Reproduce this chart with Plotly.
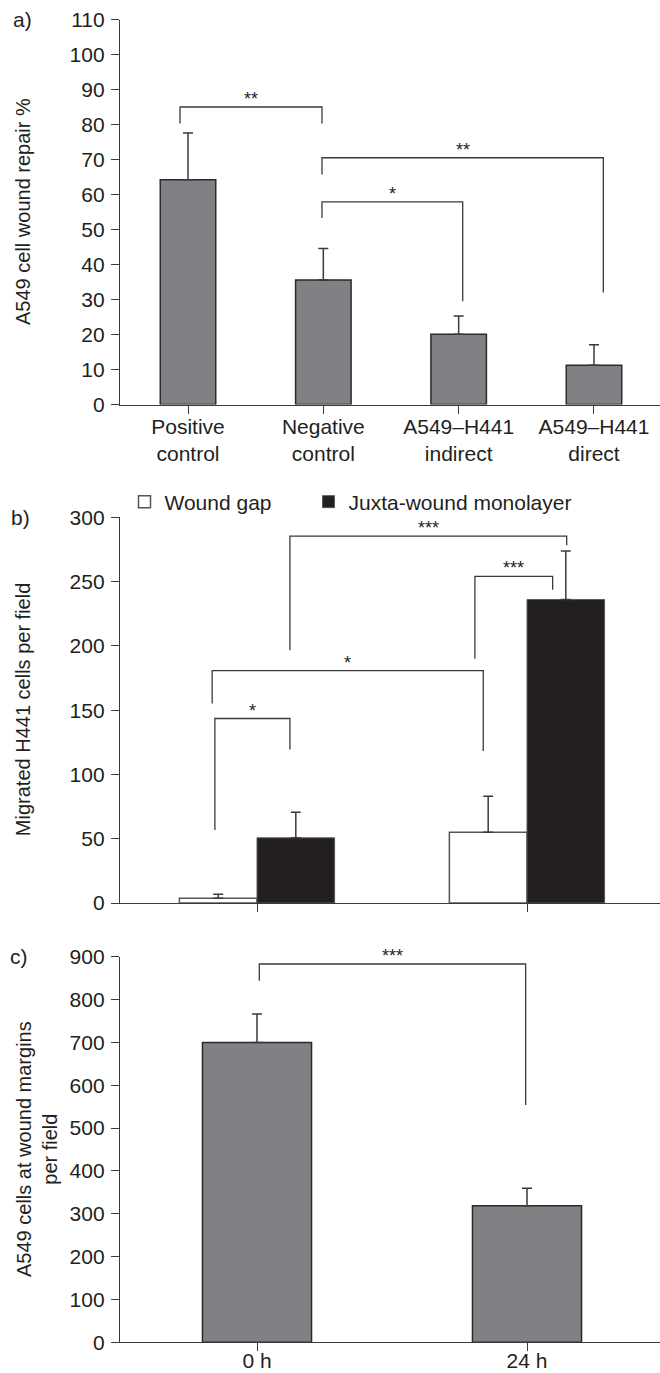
import plotly.graph_objects as go

# ---------------- data ----------------
# Panel a
a_categories = ["Positive<br>control", "Negative<br>control", "A549–H441<br>indirect", "A549–H441<br>direct"]
a_values = [64.2, 35.6, 20.1, 11.2]
a_errors = [13.4, 9.0, 5.2, 5.9]
a_yticks = list(range(0, 111, 10))
# brackets: left x, right x, top y, left-leg bottom, right-leg bottom, label
a_br_x0 = [-0.059, 0.99, 0.99]
a_br_x1 = [0.99, 3.069, 2.03]
a_br_top = [85.0, 70.5, 57.9]
a_br_y0 = [80.3, 65.7, 53.3]
a_br_y1 = [80.3, 32.0, 29.5]
a_br_lab = ["**", "**", "*"]

# Panel b
b_categories = ["0 h", "24 h"]
b_gap_values = [3.6, 55.0]
b_gap_errors = [3.2, 28.0]
b_juxta_values = [50.7, 236.0]
b_juxta_errors = [19.8, 37.7]
b_yticks = list(range(0, 301, 50))
b_br_x0 = [-0.156, -0.166, 0.122, 0.807]
b_br_x1 = [0.122, 0.838, 1.147, 1.095]
b_br_top = [143.5, 180.8, 285.3, 254.0]
b_br_y0 = [56.7, 155.2, 196.6, 190.0]
b_br_y1 = [119.4, 118.3, 278.3, 243.7]
b_br_lab = ["*", "*", "***", "***"]

# Panel c
c_categories = ["0 h", "24 h"]
c_values = [700.0, 319.0]
c_errors = [66.0, 40.5]
c_yticks = list(range(0, 901, 100))
c_br_x0 = [0.0085]
c_br_x1 = [0.995]
c_br_top = [883.0]
c_br_y0 = [844.0]
c_br_y1 = [554.0]
c_br_lab = ["***"]

# ---------------- style ----------------
FONT = "Liberation Sans, Arial, Helvetica, sans-serif"
TXT = "#231f20"
AX = "#3a3a3a"
GREY = "#808185"
BLACK = "#231f20"
H = 1373.0
W = 660.0

fig = go.Figure()

err_style = dict(type="data", symmetric=False, color="#3a3a3a", thickness=1.5, width=5)

# Panel a bars
fig.add_trace(go.Bar(
    x=list(range(len(a_categories))), y=a_values, width=0.41,
    marker=dict(color=GREY, line=dict(color="#2a2a2a", width=1.5)),
    error_y=dict(array=a_errors, arrayminus=[0] * len(a_errors), **err_style),
    xaxis="x", yaxis="y", showlegend=False, hoverinfo="skip"))

# Panel b bars
fig.add_trace(go.Bar(
    x=list(range(len(b_categories))), y=b_gap_values, name="Wound gap",
    marker=dict(color="white", line=dict(color="#555555", width=1.5)),
    error_y=dict(array=b_gap_errors, arrayminus=[0] * 2, **err_style),
    xaxis="x2", yaxis="y2", legend="legend", hoverinfo="skip"))
fig.add_trace(go.Bar(
    x=list(range(len(b_categories))), y=b_juxta_values, name="Juxta-wound monolayer",
    marker=dict(color=BLACK, line=dict(color="#5a5a5a", width=1)),
    error_y=dict(array=b_juxta_errors, arrayminus=[0] * 2, **err_style),
    xaxis="x2", yaxis="y2", legend="legend2", hoverinfo="skip"))

# Panel c bars
fig.add_trace(go.Bar(
    x=list(range(len(c_categories))), y=c_values, width=0.404,
    marker=dict(color=GREY, line=dict(color="#2a2a2a", width=1.5)),
    error_y=dict(array=c_errors, arrayminus=[0] * 2, **err_style),
    xaxis="x3", yaxis="y3", showlegend=False, hoverinfo="skip"))

annotations = []


def add_brackets(xa, ya, x0s, x1s, tops, y0s, y1s, labs):
    for x0, x1, t, y0, y1, lab in zip(x0s, x1s, tops, y0s, y1s, labs):
        fig.add_trace(go.Scatter(
            x=[x0, x0, x1, x1], y=[y0, t, t, y1], mode="lines",
            line=dict(color=AX, width=1.3), xaxis=xa, yaxis=ya,
            showlegend=False, hoverinfo="skip"))
        annotations.append(dict(
            x=(x0 + x1) / 2, y=t, xref=xa, yref=ya, text=lab, showarrow=False,
            yanchor="bottom", xanchor="center", yshift=-4,
            font=dict(family=FONT, size=18, color=TXT)))


add_brackets("x", "y", a_br_x0, a_br_x1, a_br_top, a_br_y0, a_br_y1, a_br_lab)
add_brackets("x2", "y2", b_br_x0, b_br_x1, b_br_top, b_br_y0, b_br_y1, b_br_lab)
add_brackets("x3", "y3", c_br_x0, c_br_x1, c_br_top, c_br_y0, c_br_y1, c_br_lab)


def pdom(px_bottom, px_top):
    return [1 - px_bottom / H, 1 - px_top / H]


axis_common = dict(showline=True, linecolor=AX, linewidth=1.3, ticks="outside",
                   ticklen=8, tickwidth=1.3, tickcolor=AX, showgrid=False,
                   zeroline=False, automargin=False,
                   tickfont=dict(family=FONT, size=21, color=TXT))

xdom = [120 / W, 1.0]

# titles & panel labels
annotations += [
    dict(x=23 / W, y=0.5, xref="paper", yref="y domain", text="A549 cell wound repair %",
         textangle=-90, showarrow=False, xanchor="center", yanchor="middle",
         font=dict(family=FONT, size=20, color=TXT)),
    dict(x=23 / W, y=0.5, xref="paper", yref="y2 domain", text="Migrated H441 cells per field",
         textangle=-90, showarrow=False, xanchor="center", yanchor="middle",
         font=dict(family=FONT, size=20, color=TXT)),
    dict(x=36.5 / W, y=0.5, xref="paper", yref="y3 domain",
         text="A549 cells at wound margins<br>per field",
         textangle=-90, showarrow=False, xanchor="center", yanchor="middle",
         font=dict(family=FONT, size=20, color=TXT)),
    dict(x=22 / W, y=1, xref="paper", yref="y domain", text="a)", showarrow=False,
         xanchor="center", yanchor="middle", font=dict(family=FONT, size=21, color=TXT)),
    dict(x=20 / W, y=1, xref="paper", yref="y2 domain", text="b)", showarrow=False,
         xanchor="center", yanchor="middle", font=dict(family=FONT, size=21, color=TXT)),
    dict(x=19 / W, y=1, xref="paper", yref="y3 domain", text="c)", showarrow=False,
         xanchor="center", yanchor="middle", font=dict(family=FONT, size=21, color=TXT)),
]

legend_common = dict(orientation="h", xanchor="left", yanchor="middle",
                     bgcolor="rgba(0,0,0,0)", borderwidth=0,
                     font=dict(family=FONT, size=21, color=TXT))

a_r0 = -0.5025
b_r0 = -0.5074

fig.update_layout(
    width=660, height=1373,
    margin=dict(l=0, r=0, t=0, b=0),
    paper_bgcolor="white", plot_bgcolor="white",
    barmode="group", bargap=0.425, bargroupgap=0,
    font=dict(family=FONT, size=20, color=TXT),
    xaxis=dict(domain=xdom, anchor="y", range=[a_r0, a_r0 + 540 / 135.33],
               tickvals=list(range(len(a_categories))), ticktext=a_categories,
               ticklabelstandoff=-5, **axis_common),
    yaxis=dict(domain=pdom(404.5, 19.5), anchor="x", range=[0, 110],
               tickvals=a_yticks, ticklabelstandoff=2, **axis_common),
    xaxis2=dict(domain=xdom, anchor="y2", range=[b_r0, b_r0 + 2],
                tickvals=[0, 1], showticklabels=False, **axis_common),
    yaxis2=dict(domain=pdom(903.0, 517.3), anchor="x2", range=[0, 300],
                tickvals=b_yticks, ticklabelstandoff=2, **axis_common),
    xaxis3=dict(domain=xdom, anchor="y3", range=[b_r0, b_r0 + 2],
                tickvals=[0, 1], ticktext=c_categories,
                ticklabelstandoff=-9, **axis_common),
    yaxis3=dict(domain=pdom(1342.3, 956.7), anchor="x3", range=[0, 900],
                tickvals=c_yticks, ticklabelstandoff=2, **axis_common),
    legend=dict(x=124.5 / W, y=1 - 502 / H, **legend_common),
    legend2=dict(x=308.5 / W, y=1 - 502 / H, **legend_common),
    annotations=annotations,
)

fig.write_html(
    "out.html",
    config={"displayModeBar": False},
    post_script="document.body.style.margin='0px';document.body.style.padding='0px';",
)
